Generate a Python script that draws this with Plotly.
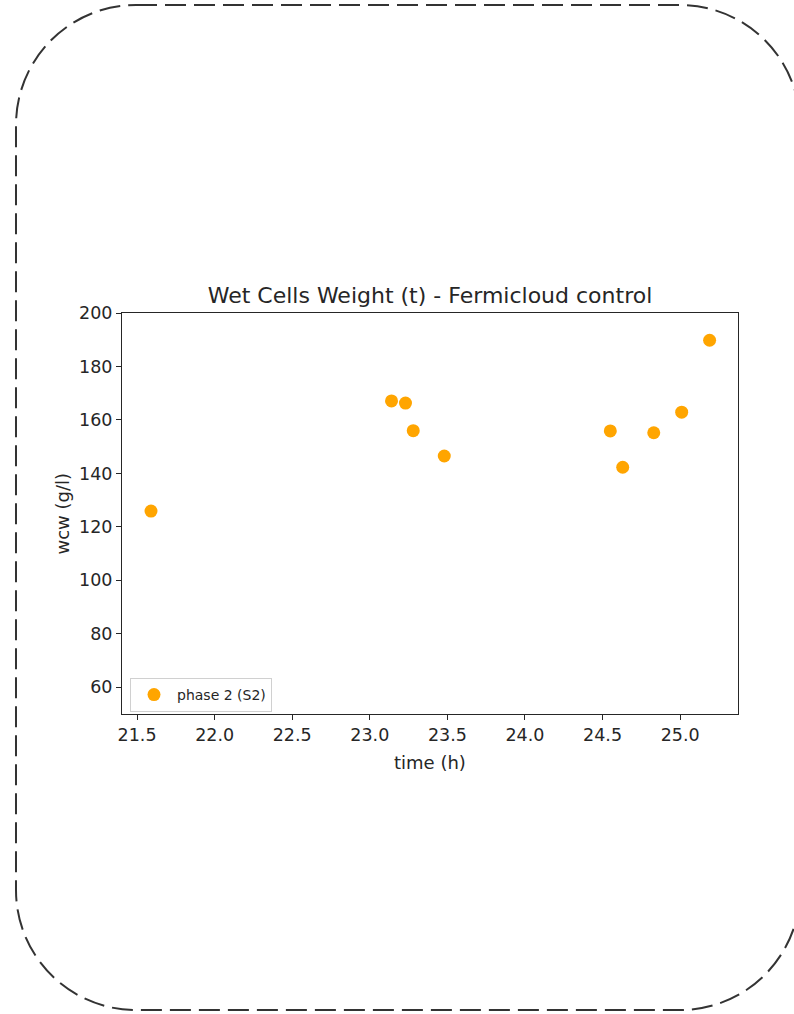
import plotly.graph_objects as go

# Data
time_h = [21.59, 23.14, 23.23, 23.28, 23.48, 24.55, 24.63, 24.83, 25.01, 25.19]
wcw = [125.9, 167.1, 166.3, 156.0, 146.5, 155.9, 142.3, 155.2, 162.9, 189.8]
series_name = "phase 2 (S2)"
x_ticks = [21.5, 22.0, 22.5, 23.0, 23.5, 24.0, 24.5, 25.0]
y_ticks = [60, 80, 100, 120, 140, 160, 180, 200]

W, H = 794, 1014
L, R, T, B = 122, 738, 313, 714  # plot area pixels

def px(x):
    return (x - L) / (R - L)

def py(y):
    return (B - y) / (B - T)

FONT = "DejaVu Sans"
DARK = "#262626"

fig = go.Figure()
fig.add_trace(go.Scatter(
    x=time_h, y=wcw, mode="markers", name=series_name,
    marker=dict(color="#FFA500", size=13, line=dict(width=0)),
))

# Rounded dashed frame (decoration) built with cubic bezier corners
x0, y0, x1, y1, r = 16, 5, 800, 1010, 120
k = 0.5523 * r
def P(x, y):
    return f"{px(x):.5f},{py(y):.5f}"
path = (
    f"M {P(x0 + r, y0)} L {P(x1 - r, y0)} "
    f"C {P(x1 - r + k, y0)} {P(x1, y0 + r - k)} {P(x1, y0 + r)} "
    f"L {P(x1, y1 - r)} "
    f"C {P(x1, y1 - r + k)} {P(x1 - r + k, y1)} {P(x1 - r, y1)} "
    f"L {P(x0 + r, y1)} "
    f"C {P(x0 + r - k, y1)} {P(x0, y1 - r + k)} {P(x0, y1 - r)} "
    f"L {P(x0, y0 + r)} "
    f"C {P(x0, y0 + r - k)} {P(x0 + r - k, y0)} {P(x0 + r, y0)} Z"
)
fig.add_shape(type="path", xref="paper", yref="paper", path=path,
              line=dict(color="#333333", width=2, dash="21px,8px"))

axis_common = dict(
    showgrid=False, zeroline=False, showline=True, mirror=True,
    linecolor=DARK, linewidth=1, ticks="outside", ticklen=5, tickwidth=1,
    tickcolor=DARK, tickfont=dict(family=FONT, size=17.5, color=DARK),
)
fig.update_xaxes(range=[21.403, 25.373], tickvals=x_ticks,
                 ticktext=[f"{v:.1f}" for v in x_ticks], **axis_common)
fig.update_yaxes(range=[50, 200], tickvals=y_ticks,
                 ticktext=[str(v) for v in y_ticks], **axis_common)

fig.add_annotation(text="wcw (g/l)", xref="paper", yref="paper",
                   x=px(62), y=0.5, textangle=-90, showarrow=False,
                   xanchor="center", yanchor="middle",
                   font=dict(family=FONT, size=18, color=DARK))
fig.add_annotation(text="time (h)", xref="paper", yref="paper",
                   x=0.5, y=py(762), showarrow=False,
                   xanchor="center", yanchor="middle",
                   font=dict(family=FONT, size=18, color=DARK))

fig.update_layout(
    width=W, height=H,
    margin=dict(l=L, r=W - R, t=T, b=H - B, pad=0),
    paper_bgcolor="white", plot_bgcolor="white",
    title=dict(text="Wet Cells Weight (t) - Fermicloud control",
               x=0.5, xref="paper", xanchor="center",
               y=1 - 295 / H, yref="container", yanchor="middle",
               font=dict(family=FONT, size=22, color=DARK)),
    showlegend=True,
    legend=dict(x=px(130), y=py(678), xanchor="left", yanchor="top",
                bgcolor="white", bordercolor="#d0d0d0", borderwidth=1,
                itemwidth=36,
                font=dict(family=FONT, size=14, color=DARK)),
)

fig.write_html("out.html", config={"displayModeBar": False},
               post_script="document.body.style.margin='0';document.body.style.overflow='hidden';")
